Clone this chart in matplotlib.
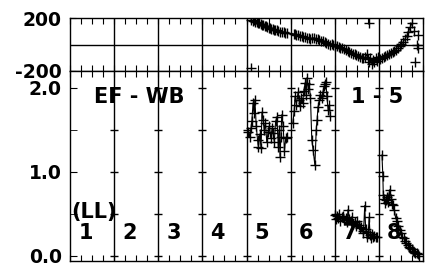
import matplotlib
matplotlib.use("Agg")
import matplotlib.pyplot as plt
import numpy as np
from matplotlib.ticker import MultipleLocator, FixedLocator

# ---- data ----
top_x = [4.10,4.14,4.17,4.20,4.23,4.26,4.29,4.32,4.35,4.38,4.41,4.44,4.47,4.50,4.53,4.56,4.59,4.62,4.65,4.68,
         4.72,4.76,4.80,4.84,4.88,4.92,5.07,5.10,5.13,5.17,5.21,5.25,5.29,5.33,5.37,5.41,5.45,5.49,5.53,5.57,
         5.61,5.65,5.69,5.73,5.77,5.81,5.85,5.89,5.93,5.97,6.01,6.05,6.09,6.13,6.17,6.21,6.25,6.29,6.33,6.37,
         6.41,6.45,6.49,6.53,6.57,6.61,6.65,6.69,6.72,6.75,6.78,6.81,6.84,6.87,6.90,6.93,6.96,6.99,7.03,7.07,
         7.11,7.15,7.19,7.23,7.27,7.31,7.35,7.39,7.43,7.47,7.51,7.55,7.59,7.63,7.67,7.71,7.75]
top_y = [184,178,182,172,170,164,160,154,150,146,141,137,133,128,124,120,116,112,109,106,
         102,98,95,92,88,85,80,78,74,70,66,62,58,54,50,47,44,46,50,45,
         40,35,30,24,18,12,6,0,4,-2,-8,-14,-20,-25,-30,-36,-42,-48,-55,-62,
         -68,-74,-80,-88,-95,-100,-104,-95,-75,-110,-130,-100,-145,-118,-135,-105,-125,-95,-110,-100,
         -92,-86,-78,-70,-62,-56,-48,-38,-26,-12,2,20,40,65,95,130,160]
top_out_x = [6.78, 4.10, 7.82, 7.89, 7.89, 7.87, 7.80]
top_out_y = [165, -175, -135, 70, -25, -5, 105]

c5_x = [4.04,4.07,4.10,4.12,4.15,4.17,4.19,4.22,4.25,4.27,4.30,4.33,4.35,4.38,4.40,4.43,4.46,4.49,4.52,4.55,
        4.58,4.60,4.63,4.66,4.69,4.72,4.74,4.76,4.78,4.80,4.83,4.86,4.89,4.92]
c5_y = [1.48,1.42,1.52,1.60,1.82,1.70,1.86,1.55,1.38,1.30,1.45,1.28,1.71,1.62,1.50,1.58,1.35,1.48,1.55,1.40,
        1.52,1.46,1.36,1.60,1.65,1.30,1.50,1.18,1.42,1.68,1.55,1.25,1.40,1.42]
c6_x = [5.05,5.08,5.10,5.13,5.17,5.19,5.21,5.24,5.27,5.30,5.33,5.35,5.37,5.40,5.42,5.45,5.48,5.51,5.55,5.58,
        5.60,5.62,5.65,5.67,5.70,5.73,5.76,5.78,5.80,5.82,5.85,5.88,5.90]
c6_y = [1.58,1.72,1.90,1.80,1.95,1.85,1.78,1.88,1.82,1.96,2.06,1.92,2.12,1.98,2.05,1.88,1.38,1.26,1.08,1.50,
        1.62,1.77,1.85,1.92,1.88,1.95,2.02,2.04,2.07,1.90,1.74,1.80,1.66]
c7_x = [6.00,6.03,6.05,6.07,6.10,6.13,6.16,6.19,6.22,6.25,6.28,6.30,6.33,6.36,6.39,6.42,6.45,6.48,6.51,6.54,
        6.57,6.60,6.63,6.65,6.68,6.70,6.73,6.76,6.78,6.80,6.82,6.84,6.87,6.90,6.93,6.96]
c7_y = [0.49,0.44,0.47,0.45,0.50,0.42,0.46,0.48,0.43,0.45,0.40,0.55,0.44,0.41,0.46,0.38,0.40,0.36,0.42,0.37,
        0.33,0.35,0.30,0.27,0.60,0.32,0.23,0.28,0.46,0.25,0.21,0.26,0.23,0.24,0.22,0.23]
c8_x = [7.07,7.09,7.10,7.12,7.14,7.16,7.18,7.20,7.22,7.25,7.28,7.30,7.32,7.35,7.38,7.41,7.44,7.47,7.50,7.53,
        7.56,7.59,7.62,7.65,7.68,7.71,7.74,7.77,7.80,7.83,7.86,7.89,7.92]
c8_y = [1.20,0.95,0.73,0.68,0.63,0.66,0.70,0.64,0.72,0.79,0.68,0.62,0.61,0.55,0.45,0.42,0.36,0.31,0.27,0.23,
        0.21,0.18,0.16,0.13,0.11,0.10,0.08,0.06,0.05,0.04,0.03,0.02,0.00]

column_labels = ["1", "2", "3", "4", "5", "6", "7", "8"]
top_ticks = [-200, 200]
bottom_ticks = [0.0, 1.0, 2.0]
bottom_minor = [0.5, 1.5]

# ---- figure ----
plt.rcParams['font.family'] = ['DejaVu Sans']
plt.rcParams['font.weight'] = 'bold'
fig = plt.figure(figsize=(4.30, 2.73), dpi=100)
L, R = 70/430, 423/430
ax1 = fig.add_axes([L, 1-71/273, R-L, 53/273])
ax2 = fig.add_axes([L, 1-261/273, R-L, 190/273])

ncol = len(column_labels)
mk = dict(color='black', marker='+', markersize=7, markeredgewidth=1.0, linewidth=0.8)

for ax in (ax1, ax2):
    ax.set_xlim(0, ncol)
    for b in range(1, ncol):
        ax.axvline(b, color='black', lw=1.0, zorder=1)
    for s in ax.spines.values():
        s.set_linewidth(1.0)
    ax.xaxis.set_major_locator(FixedLocator([]))
    ax.xaxis.set_minor_locator(MultipleLocator(0.25))
    ax.tick_params(axis='x', which='minor', direction='in', top=True, bottom=True, length=4, width=0.8)
    ax.tick_params(axis='x', labelbottom=False)

# top panel
ax1.set_ylim(-200, 200)
ax1.axhline(0, color='black', lw=1.0, zorder=1)
ax1.set_yticks(top_ticks)
ax1.set_yticklabels([str(t) for t in top_ticks], fontsize=13.5, fontweight='bold')
ax1.tick_params(axis='y', direction='in', length=4, pad=6)
ax1.plot(top_x, top_y, zorder=3, **mk)
ax1.plot(top_out_x, top_out_y, linestyle='none', color='black', marker='+', markersize=7,
         markeredgewidth=1.0, zorder=3)

# bottom panel
ax2.set_ylim(-0.06, 2.2)
ax2.set_yticks(bottom_ticks)
ax2.set_yticklabels([f"{t:.1f}" for t in bottom_ticks], fontsize=13.5, fontweight='bold')
ax2.yaxis.set_minor_locator(FixedLocator(bottom_minor))
ax2.tick_params(axis='y', which='both', direction='in', length=5, pad=6)
for b in range(1, ncol):
    ax2.plot([b]*len(bottom_ticks + bottom_minor), bottom_ticks + bottom_minor, linestyle='none',
             marker='_', markersize=6, markeredgewidth=1.0, color='black', zorder=2)

for xs, ys in ((c5_x, c5_y), (c6_x, c6_y), (c7_x, c7_y), (c8_x, c8_y)):
    ax2.plot(xs, ys, zorder=3, **mk)

tfs = 15
ax2.text(1.56, 1.89, "EF - WB", ha='center', va='center', fontsize=tfs, fontweight='bold', zorder=4)
ax2.text(6.96, 1.89, "1 - 5", ha='center', va='center', fontsize=tfs, fontweight='bold', zorder=4)
ax2.text(0.55, 0.52, "(LL)", ha='center', va='center', fontsize=tfs, fontweight='bold', zorder=4)
for i, lab in enumerate(column_labels):
    ax2.text(i + 0.35, 0.27, lab, ha='center', va='center', fontsize=tfs, fontweight='bold', zorder=4)

fig.savefig("out.png", dpi=100)
